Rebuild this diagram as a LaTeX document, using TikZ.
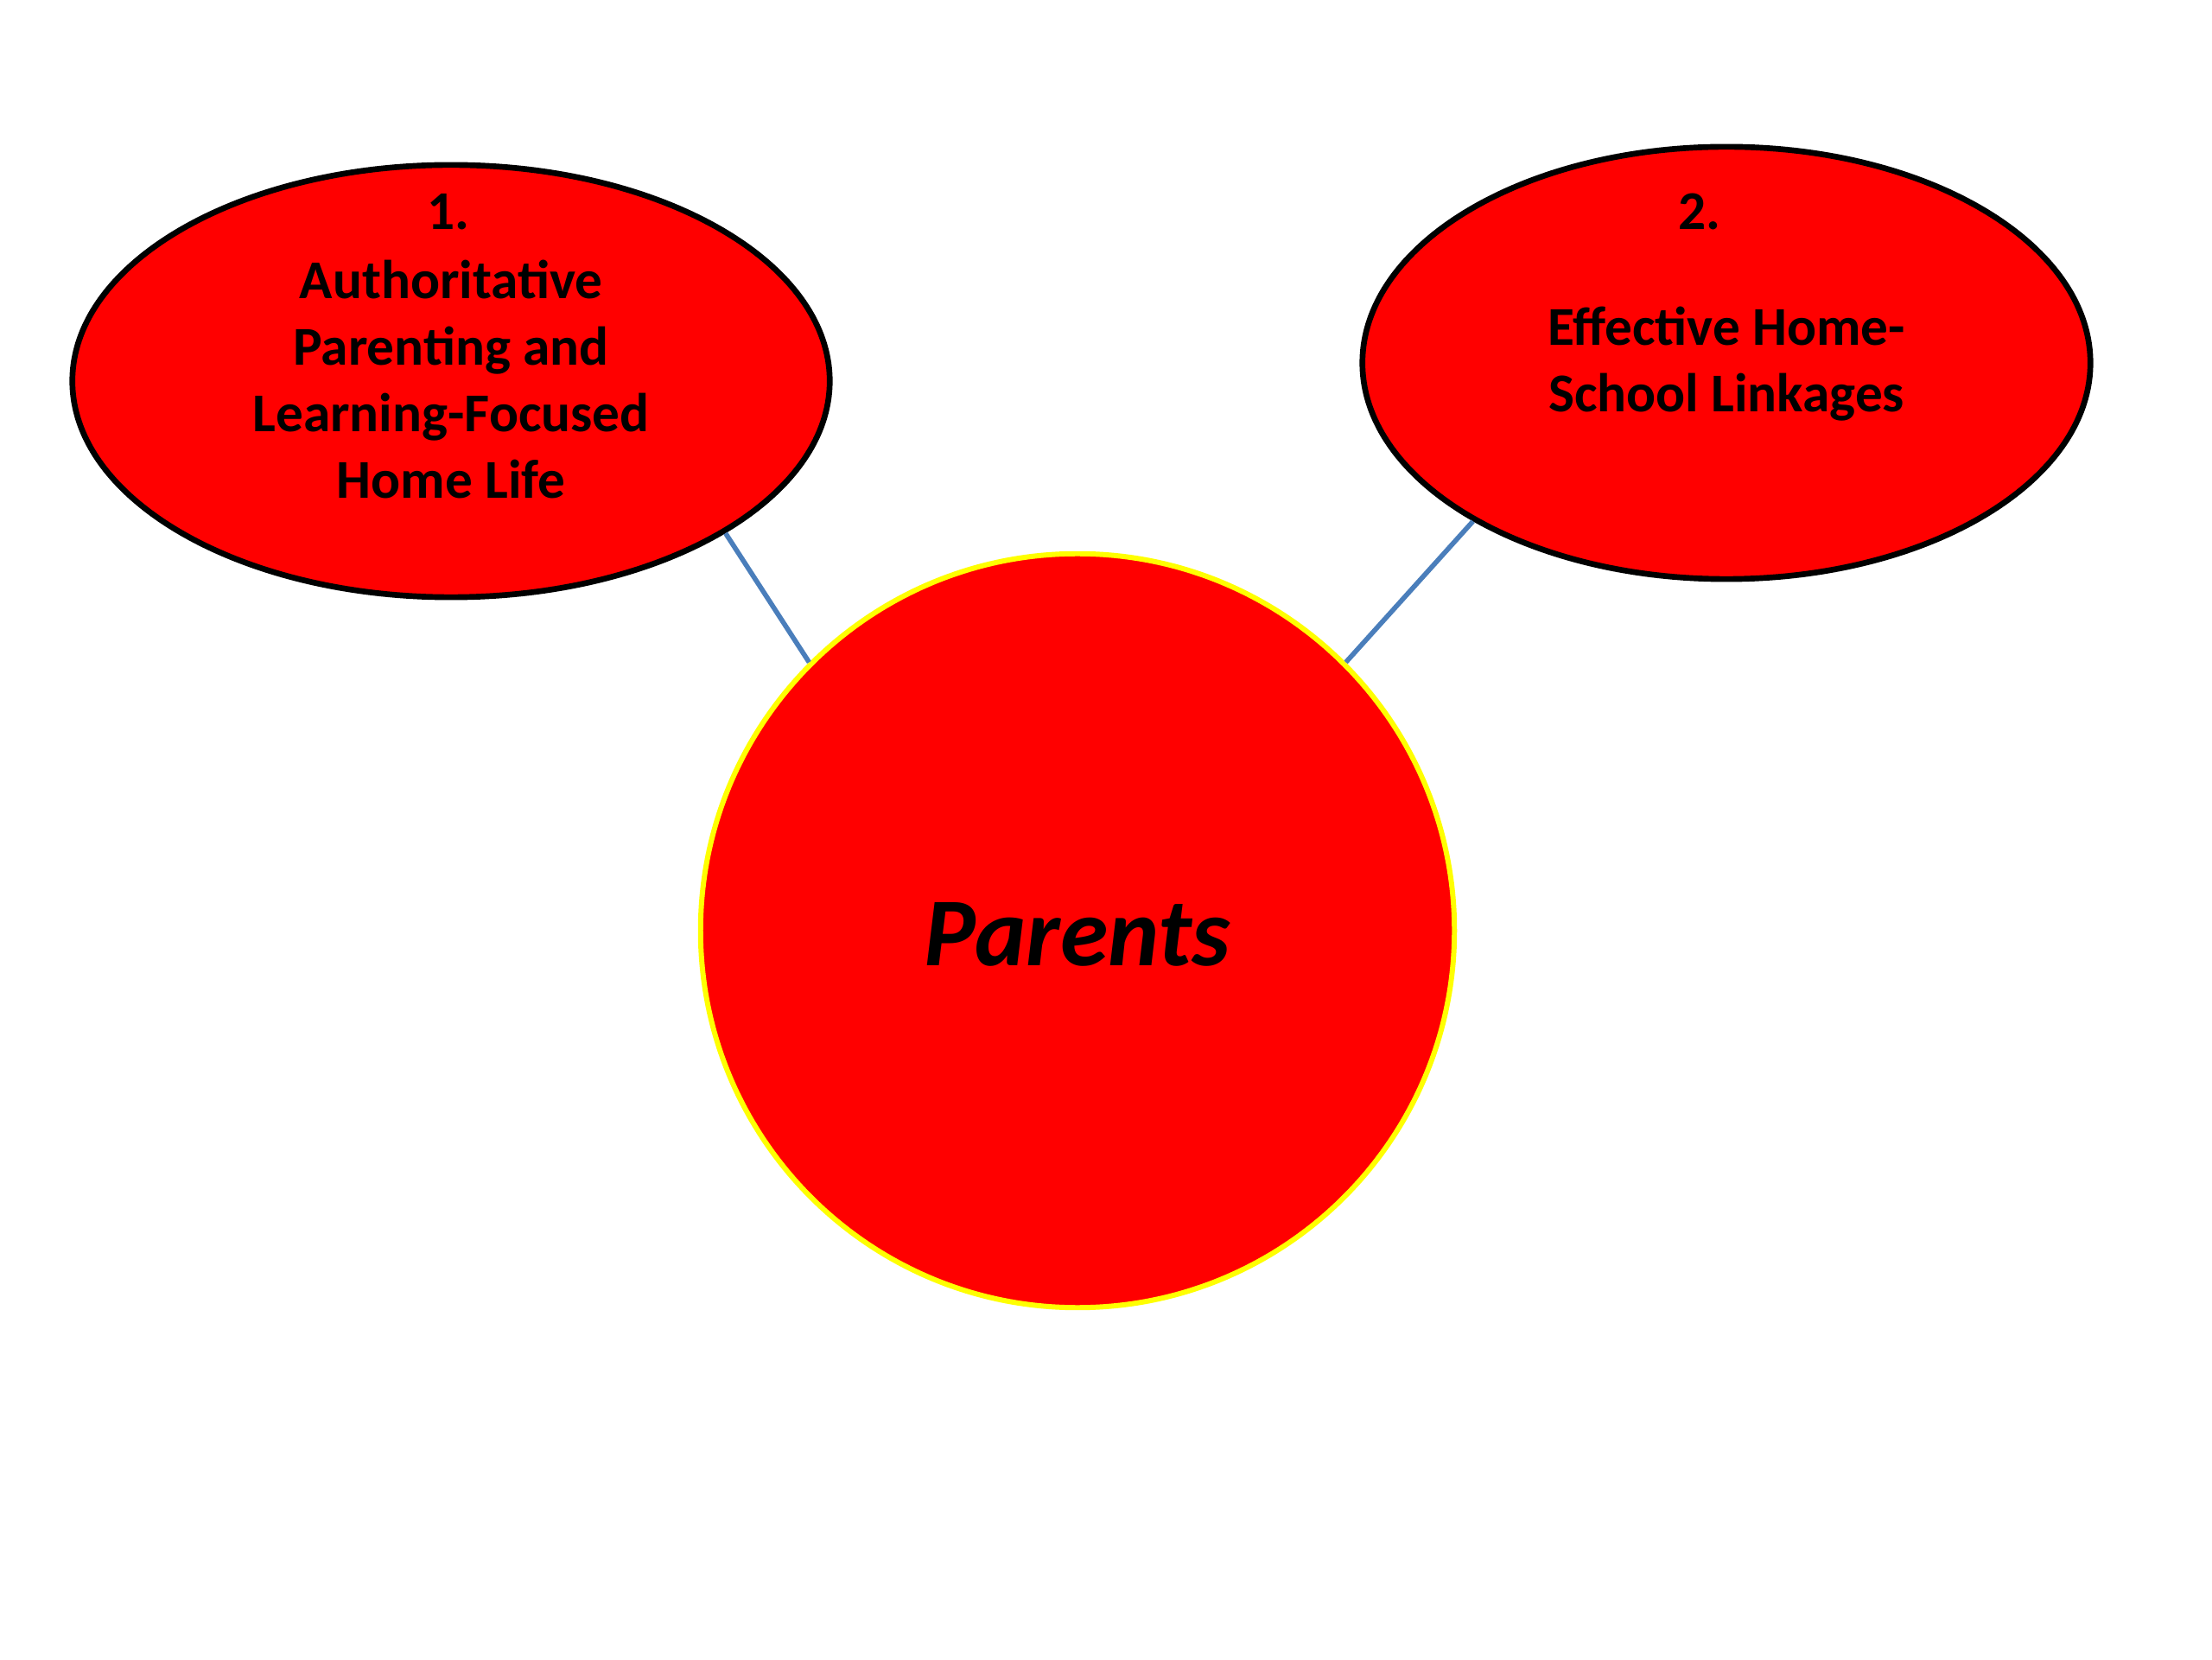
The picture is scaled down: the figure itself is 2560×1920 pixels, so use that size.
\documentclass[tikz,border=0pt]{standalone}
\usepackage{fontspec}
\setmainfont{Carlito}
\usetikzlibrary{shapes.geometric}
\definecolor{fillred}{RGB}{255,0,0}
\definecolor{linkblue}{RGB}{74,126,187}
\definecolor{rimyellow}{RGB}{255,255,0}
\begin{document}
\begin{tikzpicture}[x=0.01cm,y=0.01cm,
  topic/.style={ellipse,draw=black,fill=fillred,line width=1.9pt,inner sep=0pt},
  hub/.style={circle,draw=rimyellow,fill=fillred,line width=1.7pt,inner sep=0pt,minimum size=8.72cm},
  label/.style={align=center,font=\fontsize{18}{21.9}\selectfont\bfseries,inner sep=0pt},
  link/.style={draw=linkblue,line width=1.6pt}]
\useasboundingbox (0,0) rectangle (2560,1920);
\fill[white] (0,0) rectangle (2560,1920);
\node[topic,minimum width=8.76cm,minimum height=5cm] (e1) at (522,1479) {};
\node[topic,minimum width=8.42cm,minimum height=5cm] (e2) at (1998,1500) {};
\node[hub] (c) at (1247,843) {};
\node[label] (n1) at (519,1675) {1.};
\node[label] (t1) at (522,1481) {Authoritative\\Parenting and\\Learning-Focused\\Home Life};
\node[label] (n2) at (1967,1675) {2.};
\node[label] (t2) at (1998,1499) {Effective Home-\\School Linkages};
\node[font=\fontsize{32}{40}\selectfont\bfseries\itshape,inner sep=0pt] (p) at (1247,839) {Parents};
\draw[link] (e1.-29.7) -- (c.135);
\draw[link] (e2.212) -- (c.45);
\end{tikzpicture}
\end{document}
